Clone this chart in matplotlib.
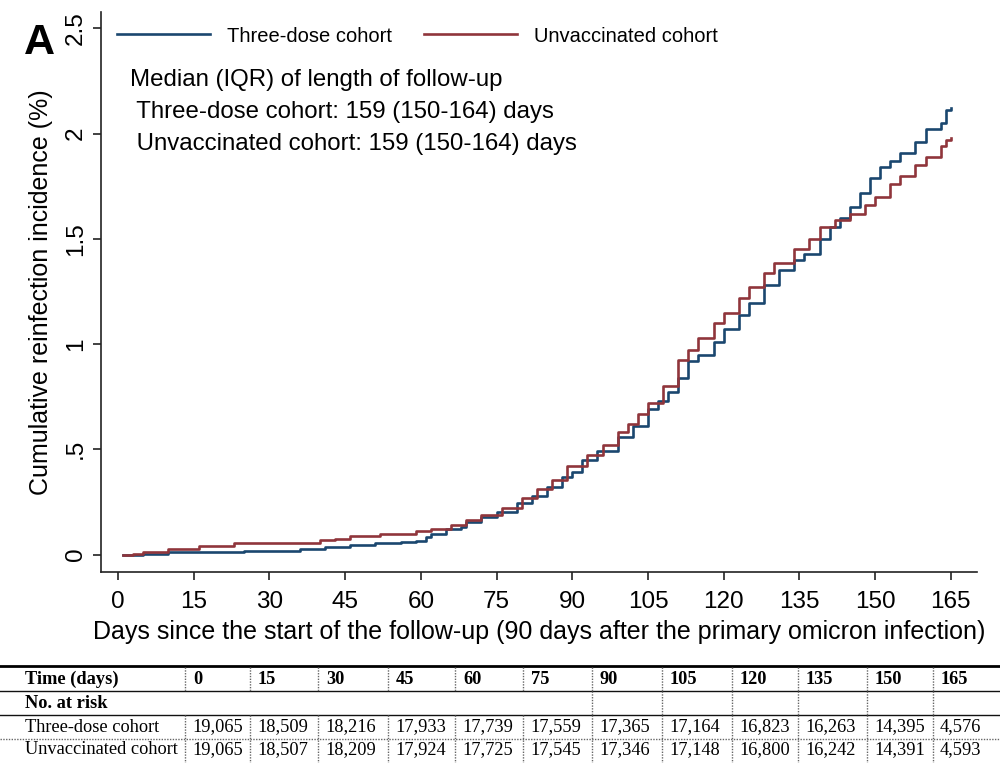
import numpy as np
import matplotlib
matplotlib.use('Agg')
import matplotlib.pyplot as plt
from matplotlib.lines import Line2D

# cumulative reinfection incidence (%)
days_three = [1, 5, 10, 19, 25, 31, 36, 41, 46, 51, 56, 59, 61, 62, 65, 68, 69, 72, 75,
              79, 82, 85, 88, 90, 92, 95, 99, 102, 105, 107, 109, 111, 113, 115, 118,
              120, 123, 125, 128, 131, 134, 136, 139, 141, 143, 145, 147, 149, 151,
              153, 155, 158, 160, 163, 164, 165]
inc_three = [0.0, 0.005, 0.01, 0.014, 0.016, 0.019, 0.028, 0.037, 0.047, 0.054, 0.062,
             0.066, 0.085, 0.10, 0.12, 0.133, 0.157, 0.18, 0.20, 0.245, 0.28, 0.32, 0.37,
             0.39, 0.45, 0.49, 0.56, 0.61, 0.69, 0.73, 0.77, 0.84, 0.92, 0.95, 1.01, 1.07,
             1.14, 1.195, 1.28, 1.35, 1.40, 1.43, 1.50, 1.556, 1.60, 1.65, 1.72, 1.79,
             1.84, 1.87, 1.91, 1.96, 2.02, 2.05, 2.11, 2.12]

days_unvax = [1, 3, 5, 10, 16, 23, 36, 40, 43, 46, 52, 59, 62, 66, 69, 72, 76, 80, 83,
              86, 89, 93, 96, 99, 101, 103, 105, 108, 111, 113, 115, 118, 120, 123, 125,
              128, 130, 134, 137, 139, 142, 145, 148, 150, 153, 155, 158, 160, 163, 164, 165]
inc_unvax = [0.0, 0.005, 0.014, 0.028, 0.043, 0.057, 0.057, 0.067, 0.076, 0.086, 0.10,
             0.11, 0.12, 0.142, 0.165, 0.19, 0.22, 0.27, 0.31, 0.356, 0.42, 0.475, 0.52,
             0.58, 0.62, 0.67, 0.72, 0.80, 0.925, 0.97, 1.03, 1.10, 1.15, 1.22, 1.27,
             1.34, 1.385, 1.45, 1.50, 1.556, 1.59, 1.62, 1.66, 1.70, 1.76, 1.80, 1.85,
             1.89, 1.94, 1.97, 1.98]

xticks = list(range(0, 166, 15))
yticks = [0, 0.5, 1, 1.5, 2, 2.5]
ytick_labels = ['0', '.5', '1', '1.5', '2', '2.5']

# number at risk table
risk_times = ['0', '15', '30', '45', '60', '75', '90', '105', '120', '135', '150', '165']
risk_three = ['19,065', '18,509', '18,216', '17,933', '17,739', '17,559', '17,365',
              '17,164', '16,823', '16,263', '14,395', '4,576']
risk_unvax = ['19,065', '18,507', '18,209', '17,924', '17,725', '17,545', '17,346',
              '17,148', '16,800', '16,242', '14,391', '4,593']

navy = '#1a476f'
maroon = '#90353b'

plt.rcParams['font.family'] = ['Liberation Sans', 'DejaVu Sans']

W, H = 1000, 763
fig = plt.figure(figsize=(W / 100, H / 100), dpi=100)


def fy(p):
    return 1 - p / H


ax = fig.add_axes([101 / W, fy(572), 876 / W, (572 - 12) / H])
ax.step(days_three, inc_three, where='post', color=navy, lw=1.9)
ax.step(days_unvax, inc_unvax, where='post', color=maroon, lw=1.9)
ax.set_xlim(-3.37, 170.2)
ax.set_ylim(-0.0827, 2.5775)
ax.set_xticks(xticks)
ax.set_yticks(yticks)
ax.set_yticklabels(ytick_labels, rotation=90, va='center')
for s in ['top', 'right']:
    ax.spines[s].set_visible(False)
for s in ['left', 'bottom']:
    ax.spines[s].set_color('#222222')
    ax.spines[s].set_linewidth(1.2)
ax.tick_params(axis='both', direction='out', length=6, width=1.2, color='#222222',
               labelsize=17.5)
ax.tick_params(axis='x', pad=8)
ax.tick_params(axis='y', pad=4)
ax.set_xlabel('Days since the start of the follow-up (90 days after the primary omicron infection)',
              fontsize=18, labelpad=5)
ax.set_ylabel('Cumulative reinfection incidence (%)', fontsize=18, labelpad=9)

# legend above the curves
fig.legend([Line2D([], [], color=navy, lw=1.9), Line2D([], [], color=maroon, lw=1.9)],
           ['Three-dose cohort', 'Unvaccinated cohort'], ncol=2, frameon=False,
           loc='center left', bbox_to_anchor=(117 / W, fy(36)), borderpad=0,
           borderaxespad=0, fontsize=14.5, handlelength=4.6, handletextpad=0.85,
           columnspacing=1.6)

fig.text(130 / W, fy(80), 'Median (IQR) of length of follow-up', fontsize=17.3, va='center')
fig.text(130 / W, fy(112), ' Three-dose cohort: 159 (150-164) days', fontsize=17.3, va='center')
fig.text(130 / W, fy(144), ' Unvaccinated cohort: 159 (150-164) days', fontsize=17.3, va='center')
fig.text(24 / W, fy(43), 'A', fontsize=31, fontweight='bold', va='center')

# table
serif = ['Liberation Serif', 'DejaVu Serif']
col_edges = [185, 250, 318, 388, 455, 523, 592, 662, 732, 798, 867, 933]
row_y = [679, 703, 727, 750]
tsize = 13.2

fig.add_artist(Line2D([0, 1], [fy(666), fy(666)], color='black', lw=2))
fig.add_artist(Line2D([0, 1], [fy(691), fy(691)], color='#111111', lw=1))
fig.add_artist(Line2D([0, 1], [fy(715), fy(715)], color='#111111', lw=1))
fig.add_artist(Line2D([0, 1], [fy(739), fy(739)], color='#666666', lw=1, ls=(0, (1, 1))))
for e in col_edges:
    fig.add_artist(Line2D([e / W, e / W], [fy(667), fy(691)], color='#666666', lw=1, ls=(0, (1, 1))))
    fig.add_artist(Line2D([e / W, e / W], [fy(715), fy(763)], color='#666666', lw=1, ls=(0, (1, 1))))
    if e >= 592:
        fig.add_artist(Line2D([e / W, e / W], [fy(691), fy(715)], color='#666666', lw=1, ls=(0, (1, 1))))

fig.text(25 / W, fy(row_y[0]), 'Time (days)', family=serif, fontweight='bold', fontsize=tsize, va='center')
fig.text(25 / W, fy(row_y[1]), 'No. at risk', family=serif, fontweight='bold', fontsize=tsize, va='center')
fig.text(25 / W, fy(row_y[2]), 'Three-dose cohort', family=serif, fontsize=tsize, va='center')
fig.text(25 / W, fy(row_y[3]), 'Unvaccinated cohort', family=serif, fontsize=tsize, va='center')
for i, e in enumerate(col_edges):
    fig.text((e + 8) / W, fy(row_y[0]), risk_times[i], family=serif, fontweight='bold',
             fontsize=tsize, va='center')
    fig.text((e + 7) / W, fy(row_y[2]), risk_three[i], family=serif, fontsize=tsize, va='center')
    fig.text((e + 7) / W, fy(row_y[3]), risk_unvax[i], family=serif, fontsize=tsize, va='center')

fig.savefig('out.png', dpi=100, facecolor='white')
